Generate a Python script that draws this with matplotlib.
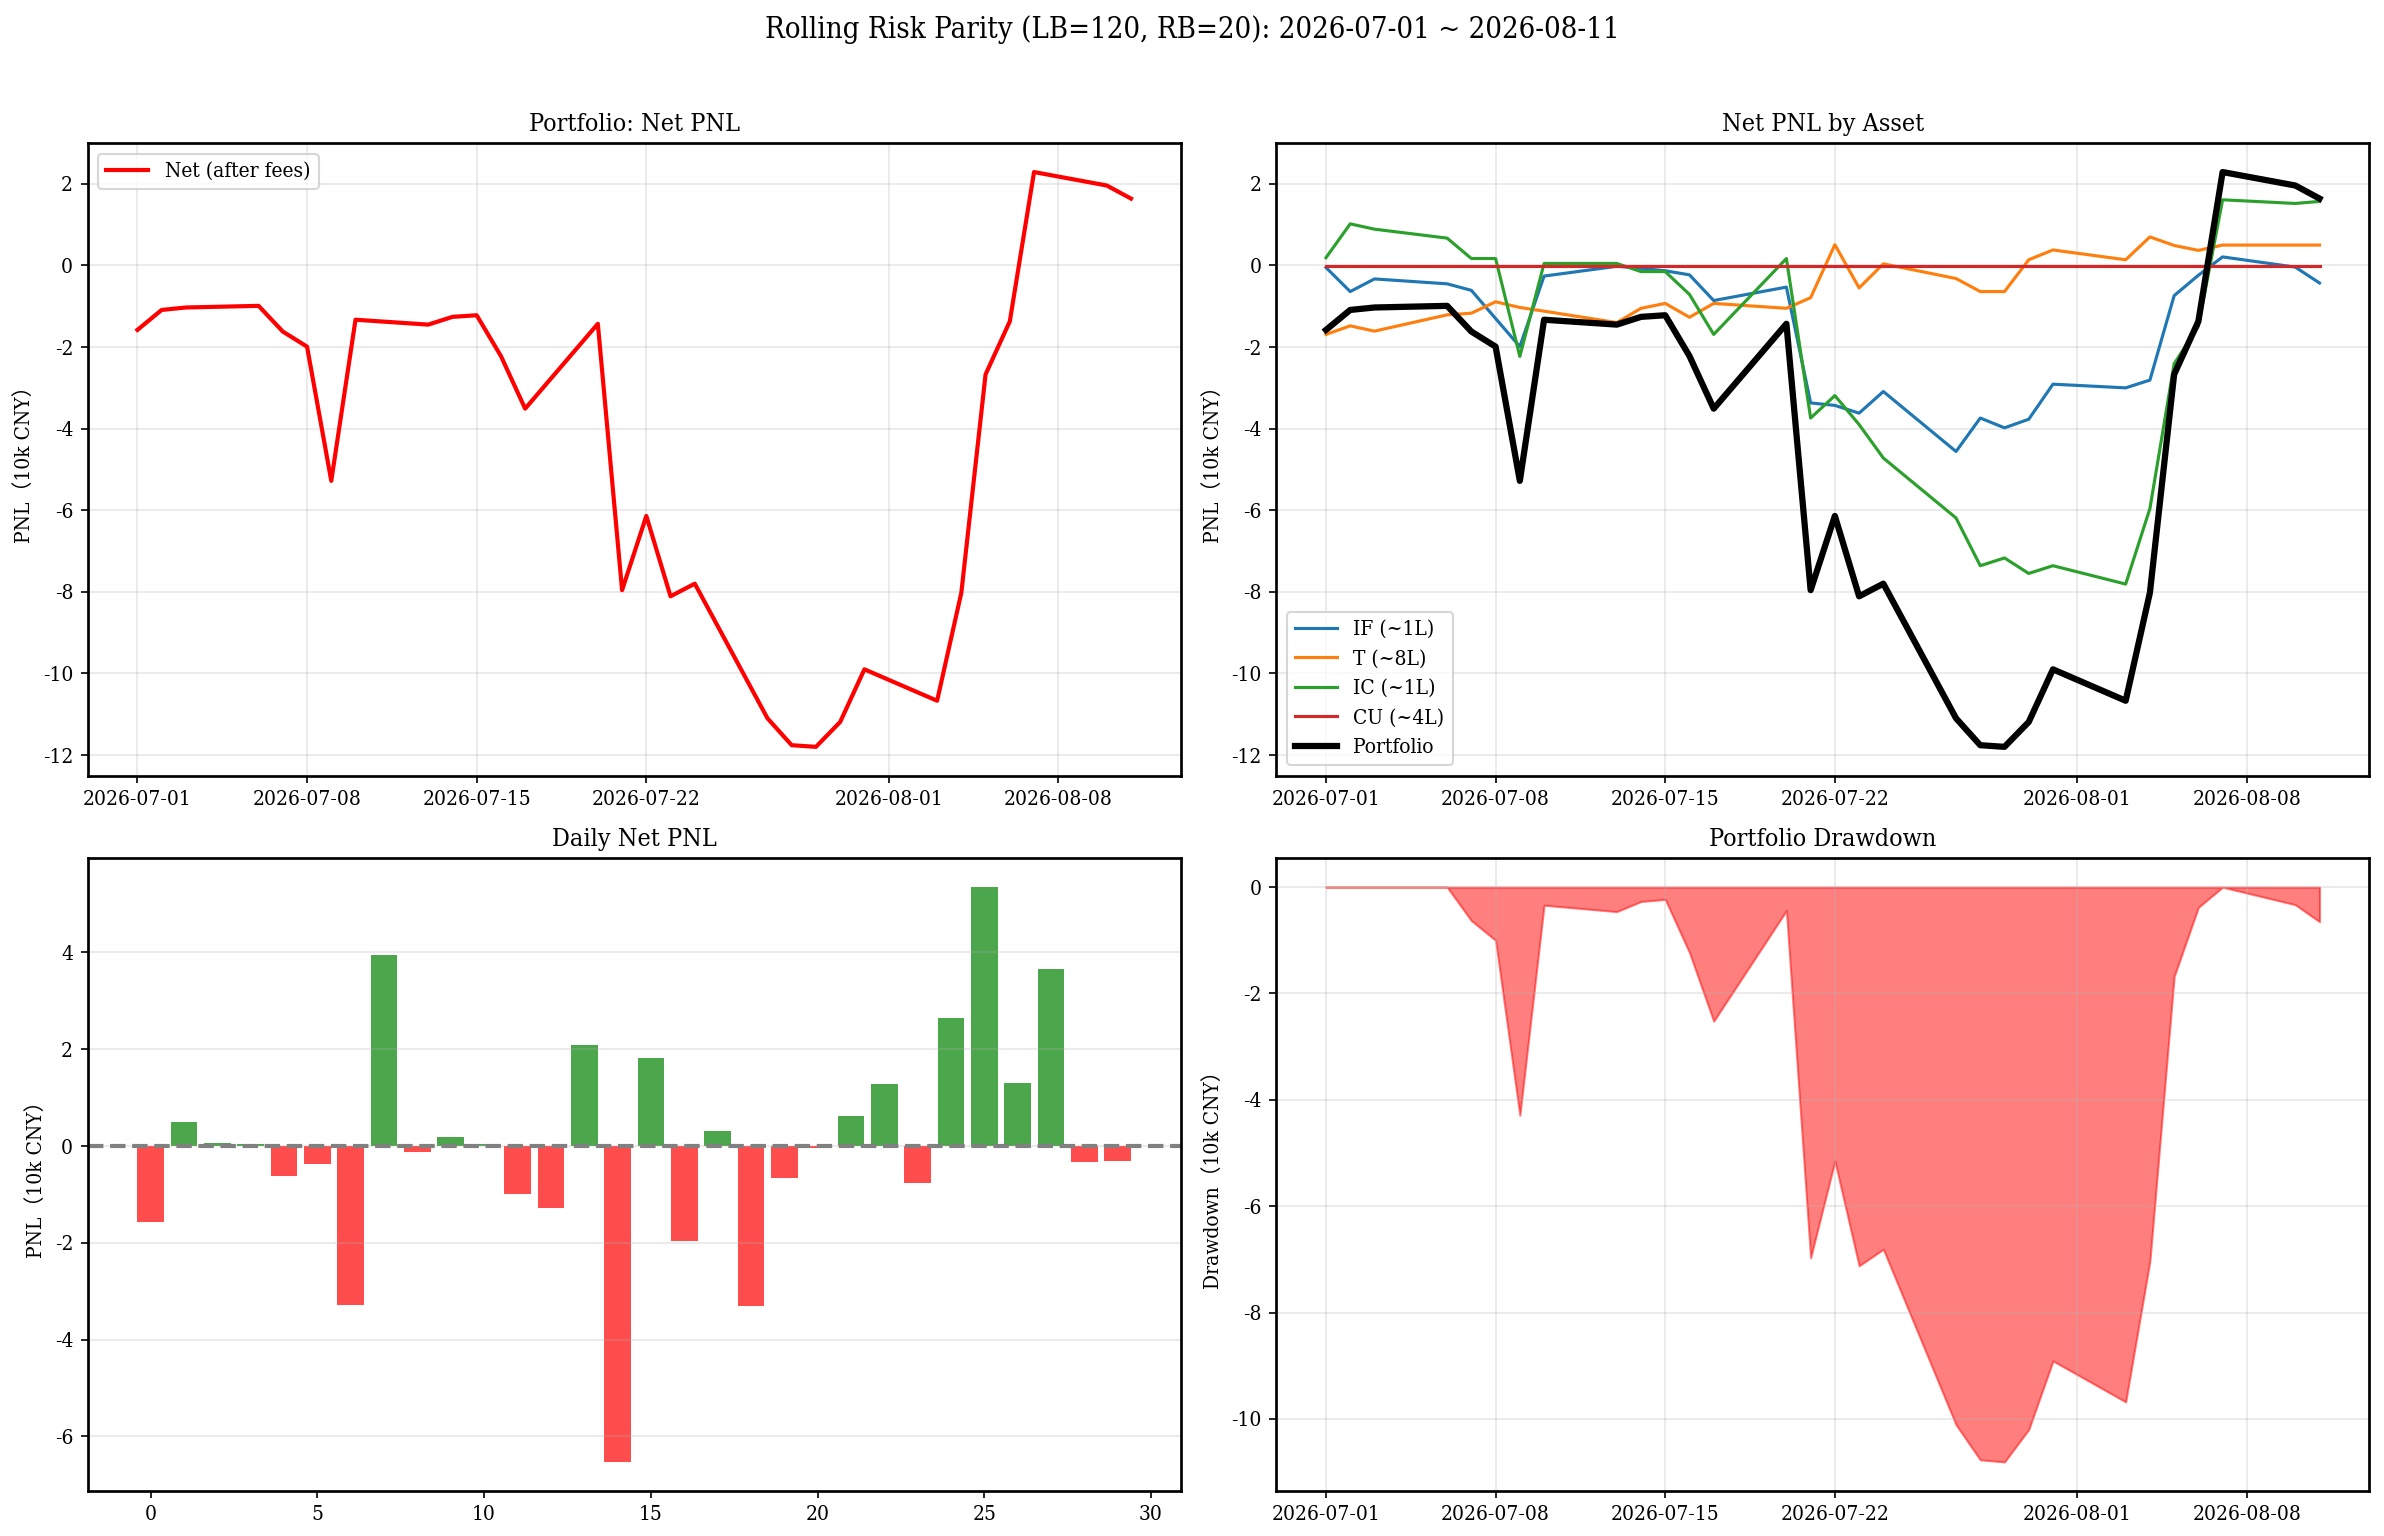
import matplotlib
matplotlib.use("Agg")
import matplotlib.pyplot as plt
import matplotlib.dates as mdates
import numpy as np
import pandas as pd

plt.rcParams['font.family'] = ['DejaVu Serif', 'Noto Sans CJK SC']
plt.rcParams['font.stretch'] = 'condensed'
plt.rcParams['axes.unicode_minus'] = False
plt.rcParams['axes.linewidth'] = 1.3

# trading days
dates = pd.to_datetime([
    "2026-07-01", "2026-07-02", "2026-07-03", "2026-07-06", "2026-07-07",
    "2026-07-08", "2026-07-09", "2026-07-10", "2026-07-13", "2026-07-14",
    "2026-07-15", "2026-07-16", "2026-07-17", "2026-07-20", "2026-07-21",
    "2026-07-22", "2026-07-23", "2026-07-24", "2026-07-27", "2026-07-28",
    "2026-07-29", "2026-07-30", "2026-07-31", "2026-08-03", "2026-08-04",
    "2026-08-05", "2026-08-06", "2026-08-07", "2026-08-10", "2026-08-11",
])

# cumulative net pnl of the portfolio (10k CNY)
net_pnl = [-1.58, -1.09, -1.03, -0.99, -1.62, -1.99, -5.28, -1.33, -1.45, -1.26,
           -1.22, -2.22, -3.51, -1.43, -7.96, -6.14, -8.11, -7.80, -11.10, -11.76,
           -11.80, -11.19, -9.90, -10.67, -8.02, -2.67, -1.37, 2.29, 1.96, 1.64]

# cumulative net pnl per asset
pnl_if = [-0.05, -0.64, -0.33, -0.45, -0.61, -1.30, -1.99, -0.26, -0.02, -0.07,
          -0.13, -0.23, -0.86, -0.53, -3.37, -3.43, -3.62, -3.09, -4.56, -3.74,
          -3.98, -3.77, -2.91, -3.00, -2.81, -0.74, -0.24, 0.21, -0.04, -0.43]
pnl_t = [-1.69, -1.48, -1.61, -1.21, -1.17, -0.89, -1.03, -1.12, -1.40, -1.05,
         -0.93, -1.27, -0.93, -1.05, -0.79, 0.51, -0.55, 0.04, -0.32, -0.64,
         -0.64, 0.14, 0.38, 0.14, 0.70, 0.49, 0.37, 0.50, 0.50, 0.50]
pnl_ic = [0.19, 1.02, 0.89, 0.67, 0.17, 0.17, -2.23, 0.05, 0.05, -0.15,
          -0.15, -0.71, -1.69, 0.17, -3.74, -3.19, -3.90, -4.72, -6.19, -7.36,
          -7.17, -7.55, -7.36, -7.81, -5.96, -2.41, -1.49, 1.61, 1.52, 1.57]
pnl_cu = [-0.02] * 30

asset_names = ["IF (~1L)", "T (~8L)", "IC (~1L)", "CU (~4L)"]
asset_colors = ["#1f77b4", "#ff7f0e", "#2ca02c", "#d62728"]
asset_pnl = [pnl_if, pnl_t, pnl_ic, pnl_cu]

net = np.array(net_pnl)
daily = np.diff(net, prepend=0.0)
drawdown = net - np.maximum.accumulate(net)

ylab = "PNL（10k CNY）"

fig, axes = plt.subplots(2, 2, figsize=(2384 / 150, 1536 / 150), dpi=150)
fig.subplots_adjust(left=0.0368, right=0.9938, top=0.9067, bottom=0.0295,
                    wspace=0.0875, hspace=0.131)
fig.suptitle("Rolling Risk Parity (LB=120, RB=20): 2026-07-01 ~ 2026-08-11",
             fontsize=14, y=0.99)

# portfolio net pnl
ax = axes[0, 0]
ax.plot(dates, net, color="red", lw=2, label="Net (after fees)")
ax.set_title("Portfolio: Net PNL")
ax.set_ylabel(ylab)
ax.legend(loc="upper left")
ax.grid(True, alpha=0.3)

# per asset
ax = axes[0, 1]
for name, col, vals in zip(asset_names, asset_colors, asset_pnl):
    ax.plot(dates, vals, color=col, lw=1.5, label=name)
ax.plot(dates, net, color="black", lw=3, label="Portfolio")
ax.set_title("Net PNL by Asset")
ax.set_ylabel(ylab)
ax.legend(loc="lower left")
ax.grid(True, alpha=0.3)

# daily bars
ax = axes[1, 0]
bar_colors = ["green" if v > 0 else "red" for v in daily]
ax.bar(range(len(daily)), daily, color=bar_colors, alpha=0.7)
ax.axhline(0, color="gray", ls="--", lw=2)
ax.set_title("Daily Net PNL")
ax.set_ylabel(ylab)
ax.grid(True, axis="y", alpha=0.3)

# drawdown
ax = axes[1, 1]
ax.fill_between(dates, drawdown, 0, color="red", alpha=0.5)
ax.set_title("Portfolio Drawdown")
ax.set_ylabel("Drawdown（10k CNY）")
ax.grid(True, alpha=0.3)

for ax in [axes[0, 0], axes[0, 1], axes[1, 1]]:
    ax.xaxis.set_major_formatter(mdates.DateFormatter("%Y-%m-%d"))

fig.savefig("out.png", dpi=150)
